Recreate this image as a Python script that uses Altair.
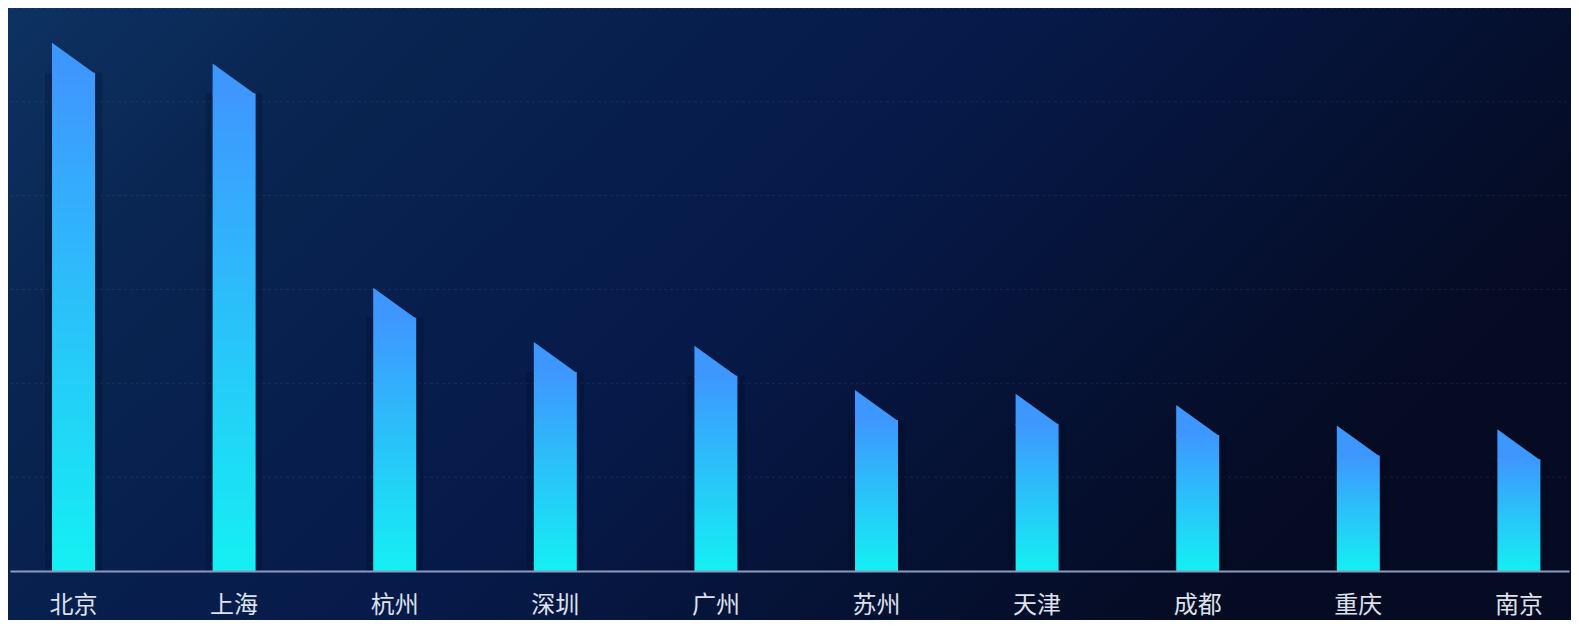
import altair as alt
import pandas as pd

# ---- data ----
cities = ["北京", "上海", "杭州", "深圳", "广州", "苏州", "天津", "成都", "重庆", "南京"]
values = [531, 509, 270, 212, 208, 161, 157, 145, 123, 119]
grid_values = [100, 200, 300, 400, 500, 600]

W, H = 1559, 563
PAD_BOTTOM = 49
BAR_W = 43
SLANT = 30

df = pd.DataFrame({"city": cities, "value": values})
grid_df = pd.DataFrame({"g": grid_values})
bg_df = pd.DataFrame({"a": [0]})

x_scale = alt.Scale(domain=cities, paddingInner=0.7323, paddingOuter=0.2199, align=0.595)
y_scale = alt.Scale(domain=[0, 600], nice=False, zero=True)

bg_grad = alt.LinearGradient(
    gradient="linear", x1=0, y1=0, x2=1, y2=0.4,
    stops=[
        alt.GradientStop(offset=0, color="#0d3262"),
        alt.GradientStop(offset=0.22, color="#092450"),
        alt.GradientStop(offset=0.55, color="#061a4a"),
        alt.GradientStop(offset=1, color="#050b22"),
    ],
)
bar_grad = alt.LinearGradient(
    gradient="linear", x1=0, y1=0, x2=0, y2=1,
    stops=[
        alt.GradientStop(offset=0, color="#3e97ff"),
        alt.GradientStop(offset=1, color="#14f0f3"),
    ],
)

background = alt.Chart(bg_df).mark_rect(fill=bg_grad, strokeWidth=0).encode(
    x=alt.value(-2), x2=alt.value(W + 2), y=alt.value(0), y2=alt.value(H + PAD_BOTTOM)
)

grid = alt.Chart(grid_df).mark_rule(
    color="#ffffff", opacity=0.07, strokeDash=[3, 3], strokeWidth=1
).encode(
    y=alt.Y("g:Q", scale=y_scale, axis=None),
    x=alt.value(0), x2=alt.value(W),
)

x_enc = alt.X(
    "city:N", scale=x_scale, sort=cities,
    axis=alt.Axis(
        title=None, labelAngle=0, labelFontSize=24, labelColor="#dde2ec",
        labelFont="Noto Sans CJK SC", labelPadding=22, ticks=False,
        domainColor="#8d99bb", domainWidth=2, grid=False, zindex=2,
    ),
)
y_enc = alt.Y("value:Q", scale=y_scale, axis=None)

halo = alt.Chart(df).mark_bar(
    color="#020920", opacity=0.22, size=BAR_W + 14
).encode(x=x_enc, y=y_enc, y2=alt.datum(0))

bars = alt.Chart(df).mark_bar(fill=bar_grad, strokeWidth=0).encode(x=x_enc, y=y_enc)

# slanted cap: a right triangle sitting on the bar top (1px overlap to hide the seam)
cap_h = SLANT + 1
half = (cap_h / 2) / (BAR_W / 2)
tri_path = f"M-1,{half:.4f}L-1,{-half:.4f}L1,{half:.4f}Z"
tops = alt.Chart(df).mark_point(
    shape=tri_path, filled=True, size=BAR_W * BAR_W, color="#3e97ff",
    opacity=1, strokeWidth=0, yOffset=-cap_h / 2 + 1,
).encode(x=x_enc, y=y_enc)

chart = alt.layer(background, grid, halo, bars, tops).properties(
    width=W, height=H,
    padding={"left": 2, "right": 2, "top": 0, "bottom": PAD_BOTTOM},
    autosize=alt.AutoSizeParams(type="none"),
).configure(background="#050d28").configure_view(stroke=None)

chart.save("out.html", embed_options={"renderer": "svg", "actions": False})
